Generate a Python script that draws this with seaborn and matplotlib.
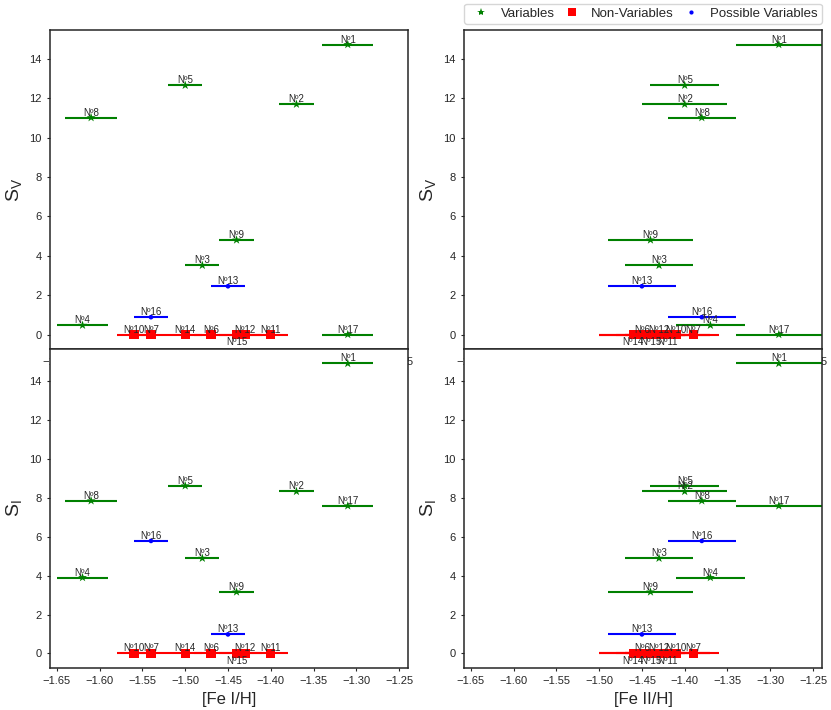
import matplotlib
matplotlib.use('Agg')
import matplotlib.pyplot as plt
import seaborn as sns
import pandas as pd

#%% Data
names = ['Nº1', 'Nº2', 'Nº3', 'Nº4', 'Nº5', 'Nº6', 'Nº7', 'Nº8', 'Nº9',
         'Nº10', 'Nº11', 'Nº12', 'Nº13', 'Nº14', 'Nº15', 'Nº16', 'Nº17']
groups = ['Variables', 'Variables', 'Variables', 'Variables', 'Variables',
          'Non-Variables', 'Non-Variables', 'Variables', 'Variables',
          'Non-Variables', 'Non-Variables', 'Non-Variables', 'Possible Variables',
          'Non-Variables', 'Non-Variables', 'Possible Variables', 'Variables']
fe1 = [-1.31, -1.37, -1.48, -1.62, -1.50, -1.47, -1.54, -1.61, -1.44,
       -1.56, -1.40, -1.43, -1.45, -1.50, -1.44, -1.54, -1.31]
fe1_err = [0.03, 0.02, 0.02, 0.03, 0.02, 0.02, 0.02, 0.03, 0.02,
           0.02, 0.02, 0.02, 0.02, 0.02, 0.02, 0.02, 0.03]
fe2 = [-1.29, -1.40, -1.43, -1.37, -1.40, -1.45, -1.39, -1.38, -1.44,
       -1.41, -1.42, -1.43, -1.45, -1.46, -1.44, -1.38, -1.29]
fe2_err = [0.05, 0.05, 0.04, 0.04, 0.04, 0.05, 0.03, 0.04, 0.05,
           0.04, 0.05, 0.04, 0.04, 0.04, 0.04, 0.04, 0.05]
s_v = [14.72, 11.69, 3.51, 0.47, 12.65, 0.0, 0.0, 11.01, 4.80,
       0.0, 0.0, 0.0, 2.45, 0.0, 0.0, 0.88, 0.0]
s_i = [14.89, 8.32, 4.89, 3.90, 8.61, 0.0, 0.0, 7.84, 3.16,
       0.0, 0.0, 0.0, 0.98, 0.0, 0.0, 5.78, 7.58]

# labels drawn under the point instead of above
below_fe1 = ['Nº15']
below_fe2 = ['Nº14', 'Nº15', 'Nº11']

group_order = ['Variables', 'Non-Variables', 'Possible Variables']
colors = {'Variables': 'green', 'Non-Variables': 'red', 'Possible Variables': 'blue'}
markers = {'Variables': '*', 'Non-Variables': 's', 'Possible Variables': '.'}

df = pd.DataFrame({'name': names, 'group': groups, 'fe1': fe1, 'fe1_err': fe1_err,
                   'fe2': fe2, 'fe2_err': fe2_err, 's_v': s_v, 's_i': s_i})

#%% Style
sns.set_theme(style='ticks')
plt.rcParams['font.family'] = ['Liberation Sans', 'DejaVu Sans']
plt.rcParams['mathtext.default'] = 'regular'
plt.rcParams['axes.linewidth'] = 1.1
plt.rcParams['xtick.major.size'] = 2.5
plt.rcParams['ytick.major.size'] = 2.5
plt.rcParams['xtick.major.width'] = 0.8
plt.rcParams['ytick.major.width'] = 0.8
plt.rcParams['xtick.labelsize'] = 8
plt.rcParams['ytick.labelsize'] = 8

fig, axes = plt.subplots(2, 2, figsize=(8.31, 7.10), dpi=100)
fig.subplots_adjust(left=0.0602, right=0.9892, top=0.9577, bottom=0.0592,
                    wspace=0.156, hspace=0)

#%% Panels
def panel(ax, xcol, ecol, ycol, below, legend=False):
    for g in group_order:
        sub = df[df.group == g]
        ax.errorbar(sub[xcol], sub[ycol], xerr=sub[ecol], fmt='none',
                    ecolor=colors[g], elinewidth=1.5, capsize=0, zorder=2)
    sns.scatterplot(data=df, x=xcol, y=ycol, hue='group', style='group',
                    hue_order=group_order, style_order=group_order,
                    palette=colors, markers=markers, s=45, linewidth=0,
                    legend=legend, ax=ax, zorder=3)
    for _, r in df.iterrows():
        if r['name'] in below:
            ax.annotate(r['name'], (r[xcol], r[ycol]), xytext=(0, -1.5),
                        textcoords='offset points', ha='center', va='top',
                        fontsize=7, color='.15')
        else:
            ax.annotate(r['name'], (r[xcol], r[ycol]), xytext=(0, 0),
                        textcoords='offset points', ha='center', va='bottom',
                        fontsize=7, color='.15')
    ax.set_xlim(-1.658, -1.2395)
    ax.set_xticks([-1.65, -1.60, -1.55, -1.50, -1.45, -1.40, -1.35, -1.30, -1.25])
    ax.set_yticks(range(0, 16, 2))
    ax.set_xlabel('')
    ax.set_ylabel('')

panel(axes[0, 0], 'fe1', 'fe1_err', 's_v', below_fe1)
panel(axes[0, 1], 'fe2', 'fe2_err', 's_v', below_fe2, legend=True)
panel(axes[1, 0], 'fe1', 'fe1_err', 's_i', below_fe1)
panel(axes[1, 1], 'fe2', 'fe2_err', 's_i', below_fe2)

for ax in axes[0]:
    ax.set_ylabel('$S_V$', fontsize=14)
for ax in axes[1]:
    ax.set_ylabel('$S_I$', fontsize=14)
axes[1, 0].set_xlabel('[Fe I/H]', fontsize=12)
axes[1, 1].set_xlabel('[Fe II/H]', fontsize=12)

handles, labels = axes[0, 1].get_legend_handles_labels()
axes[0, 1].legend_.remove()
axes[0, 1].legend(handles, labels, bbox_to_anchor=(0., 1.02, 1., .102), loc='lower left',
                  ncol=3, mode='expand', borderaxespad=0., fontsize=9.5,
                  markerscale=0.9, handletextpad=0.5, borderpad=0.3)

fig.savefig('out.png', dpi=100)
